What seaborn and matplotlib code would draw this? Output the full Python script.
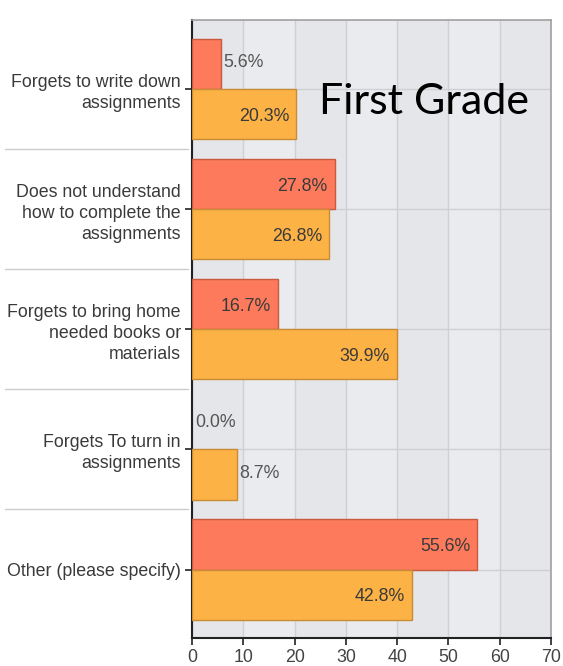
import matplotlib
matplotlib.use("Agg")
import matplotlib.pyplot as plt
import matplotlib.transforms as mtransforms
import seaborn as sns
import pandas as pd

categories = [
    "Forgets to write down\nassignments",
    "Does not understand\nhow to complete the\nassignments",
    "Forgets to bring home\nneeded books or\nmaterials",
    "Forgets To turn in\nassignments",
    "Other (please specify)",
]
series_names = ["Series A", "Series B"]
series_a = [5.6, 27.8, 16.7, 0.0, 55.6]
series_b = [20.3, 26.8, 39.9, 8.7, 42.8]
x_ticks = [0, 10, 20, 30, 40, 50, 60, 70]
title_text = "First Grade"

colors = ["#fd7b5c", "#fdb246"]
edges = ["#c95a40", "#c98b33"]

df = pd.DataFrame({
    "category": categories * 2,
    "value": series_a + series_b,
    "series": [series_names[0]] * len(categories) + [series_names[1]] * len(categories),
})

sns.set_theme(style="white")
plt.rcParams["font.family"] = ["Liberation Sans", "DejaVu Sans"]

FS = 12.8

fig = plt.figure(figsize=(5.63, 6.66), dpi=100)
ax = fig.add_axes([192 / 563, 1 - 638 / 666, 359 / 563, 618 / 666])
ax.set_facecolor("#e5e6e9")

# alternating column shading
for i, x0 in enumerate(x_ticks[:-1]):
    if i % 2 == 1:
        ax.axvspan(x0, x0 + 10, color="#e9ebee", zorder=0, lw=0)

sns.barplot(data=df, x="value", y="category", hue="series", orient="h",
            palette=colors, saturation=1, width=0.835, ax=ax, legend=False,
            zorder=3, linewidth=1.0)

for cont, ec in zip(ax.containers, edges):
    for p in cont:
        p.set_edgecolor(ec)
        if p.get_width() == 0:
            p.set_linewidth(0)

ax.set_xlim(0, 70)
ax.set_ylim(4.57, -0.575)
ax.set_xticks(x_ticks)
ax.set_xticklabels([str(t) for t in x_ticks])
ax.set_xlabel("")
ax.set_ylabel("")

ax.grid(True, axis="both", color="#cfd0d3", linewidth=1.0, zorder=1)
ax.set_axisbelow(True)

ax.tick_params(axis="x", which="major", bottom=True, length=5, width=1.2,
               color="#222222", labelsize=FS, labelcolor="#444444", pad=3)
ax.tick_params(axis="y", which="major", left=True, length=5, width=1.2,
               color="#222222", labelsize=FS, labelcolor="#3a3a3a", pad=3)
for lab in ax.get_yticklabels():
    lab.set_ha("right")
    lab.set_multialignment("right")
    lab.set_linespacing(1.3)

for side in ["left", "bottom"]:
    ax.spines[side].set_color("#222222")
    ax.spines[side].set_linewidth(1.5)
for side in ["top", "right"]:
    ax.spines[side].set_color("#a0a0a0")
    ax.spines[side].set_linewidth(1.2)

# value labels
for cont, vals in zip(ax.containers, [series_a, series_b]):
    for p, v in zip(cont, vals):
        yc = p.get_y() + p.get_height() / 2
        w = p.get_width()
        txt = f"{v:.1f}%"
        if v > 12:
            ax.annotate(txt, (w, yc), xytext=(-5, -1.5), textcoords="offset points",
                        ha="right", va="center", fontsize=FS, color="#3a3a3a", zorder=5)
        else:
            ax.annotate(txt, (w, yc), xytext=(2, 1), textcoords="offset points",
                        ha="left", va="center", fontsize=FS, color="#555555", zorder=5)

# separator lines in the label area
trans = mtransforms.blended_transform_factory(ax.transAxes, ax.transData)
for k in range(len(categories) - 1):
    ax.plot([-0.52, -0.01], [k + 0.5, k + 0.5], transform=trans, clip_on=False,
            color="#cccccc", lw=1.0, zorder=0)

fig.text(424 / 563, 1 - 102 / 666, title_text, ha="center", va="center",
         fontsize=31, family=["Lato", "DejaVu Sans"], color="#000000")

fig.savefig("out.png", dpi=100)
